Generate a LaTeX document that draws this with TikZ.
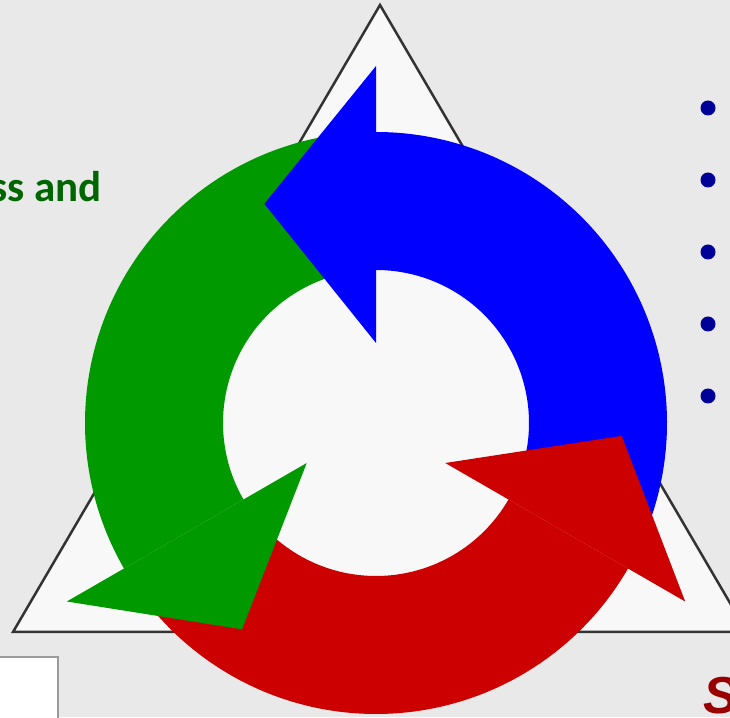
\documentclass[tikz,border=0pt]{standalone}
\usepackage{fontspec}
\setmainfont{Carlito}
\newfontfamily\signfont{Liberation Sans}
\usepackage{tikz}
\usetikzlibrary{calc}

\definecolor{bgGray}{HTML}{E9E9E9}
\definecolor{triFill}{HTML}{F8F8F8}
\definecolor{triLine}{HTML}{333333}
\definecolor{arrBlue}{HTML}{0000FF}
\definecolor{arrRed}{HTML}{CC0000}
\definecolor{arrGreen}{HTML}{009900}
\definecolor{bulBlue}{HTML}{000099}
\definecolor{capGreen}{HTML}{006600}
\definecolor{sigRed}{HTML}{990000}
\definecolor{boxGray}{HTML}{9A9A9A}

\begin{document}
\begin{tikzpicture}[
  x=1pt, y=1pt,
  frame/.style={fill=triFill, draw=triLine, line width=2.5pt, line join=miter},
  bul/.style={circle, fill=bulBlue, inner sep=0pt, minimum size=15pt},
  captext/.style={anchor=base east, text=capGreen, font=\bfseries\fontsize{43}{43}\selectfont},
  signtext/.style={anchor=base west, text=sigRed, font=\signfont\bfseries\itshape\fontsize{52}{52}\selectfont}
]
\useasboundingbox (0,0) rectangle (730,717);
\fill[bgGray] (0,0) rectangle (730,717);

% ---------------- triangle ----------------
\coordinate (apex) at (380,712);
\coordinate (bl) at (13,85);
\coordinate (br) at (747,85);
\filldraw[frame] (apex) -- (bl) -- (br) -- cycle;

% ---------------- cycle arrows ----------------
\coordinate (hub) at (376,294);
% bodies first, heads on top
\foreach \base/\col in {90/arrBlue, -30/arrRed, 210/arrGreen}{
  \fill[\col] ($(hub)+({\base-115}:291pt)$)
    arc[start angle=\base-115, end angle=\base, radius=291pt]
    -- ($(hub)+({\base}:153pt)$)
    arc[start angle=\base, end angle=\base-115, radius=153pt] -- cycle;
}
\foreach \base/\col in {90/arrBlue, -30/arrRed, 210/arrGreen}{
  \fill[\col] ($(hub)+({\base}:80pt)$) -- ($(hub)+({\base}:357pt)$)
    -- ($(hub)+({\base+27}:246pt)$) -- cycle;
}

% ---------------- texts ----------------
\node[captext] (capt) at (105,515) {ss and};
\foreach \i in {1,...,5}
  \node[bul] (b\i) at (708,{609-72*(\i-1)}) {};
\node[signtext] (sign) at (700,4) {S};

% box at lower left
\filldraw[fill=white, draw=boxGray, line width=1.2pt] (-5,-5) rectangle (58,60);
\end{tikzpicture}
\end{document}
